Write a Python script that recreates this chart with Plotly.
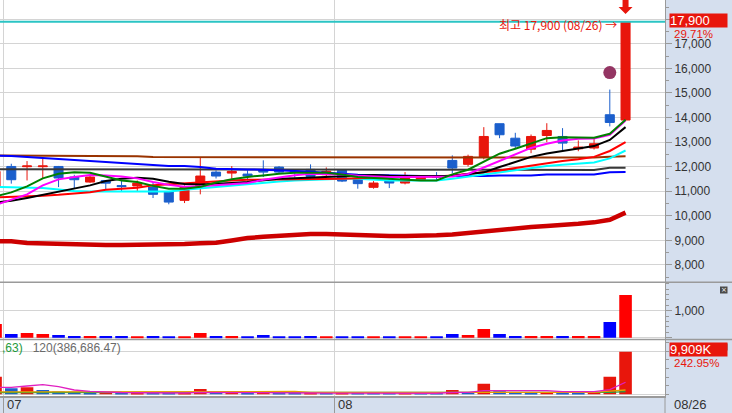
import pandas as pd
import plotly.graph_objects as go

# trading days on screen: 2022-06-30 .. 2022-08-26 (08-15 is a holiday)
dates = [d.strftime("%Y-%m-%d") for d in pd.bdate_range("2022-06-30", "2022-08-26")]
dates.remove("2022-08-15")
x = list(range(len(dates)))

### price candles ###
open_ = [11160, 12010, 12000, 12000, 12010, 11580, 11375, 11440, 11230, 11215,
         11170, 10970, 10630, 11130, 11780, 11740, 11700, 11880, 11985, 11820,
         11890, 11675, 11850, 11510, 11160, 11415, 11335, 11445, 11620, 12255,
         12095, 12390, 13750, 13160, 12715, 13270, 13230, 12730, 12760, 14115, 13900]
high = [11850, 12120, 12230, 12330, 12030, 11670, 11690, 11440, 11440, 11440,
        11375, 11010, 11240, 12390, 11850, 12025, 11850, 12260, 12025, 11860,
        12095, 11970, 11890, 11580, 11415, 11510, 11780, 11660, 11780, 12460,
        12490, 13610, 13750, 13380, 13310, 13770, 13570, 13070, 13180, 15140, 17900]
low = [11120, 11310, 11440, 11540, 11170, 11130, 11340, 11060, 11010, 11010,
       10725, 10470, 10520, 10875, 11520, 11510, 11440, 11580, 11715, 11560,
       11510, 11510, 11375, 11105, 11105, 11130, 11280, 11420, 11445, 11740,
       12010, 12300, 13160, 12755, 12550, 13000, 12660, 12630, 12700, 13640, 13900]
close = [11810, 11470, 12030, 12030, 11540, 11470, 11580, 11330, 11190, 11335,
         10875, 10560, 11170, 11620, 11620, 11810, 11620, 11780, 11780, 11770,
         11605, 11810, 11415, 11310, 11335, 11335, 11595, 11635, 11580, 11945,
         12420, 13230, 13300, 12840, 13230, 13475, 12960, 12800, 12935, 13800, 17900]

### moving averages ###
ma5 = [10790, 10955, 11200, 11525, 11710, 11770, 11750, 11605, 11443, 11380,
       11220, 11105, 11100, 11180, 11360, 11485, 11585, 11645, 11715, 11750,
       11755, 11750, 11685, 11585, 11545, 11510, 11470, 11443, 11443, 11687,
       11878, 12187, 12528, 12732, 12960, 13163, 13203, 13203, 13180, 13340, 13910]
ma10 = [10440, 10650, 10875, 11240, 11485, 11585, 11665, 11645, 11605, 11525,
        11375, 11260, 11180, 11200, 11240, 11270, 11340, 11465, 11565, 11655,
        11715, 11705, 11685, 11635, 11595, 11585, 11580, 11580, 11585, 11605,
        11705, 11970, 12235, 12520, 12765, 12935, 13070, 13140, 13150, 13300, 13880]
ma20 = [10545, 10610, 10730, 10855, 10970, 11100, 11240, 11420, 11505, 11555,
        11505, 11390, 11300, 11280, 11300, 11340, 11380, 11443, 11505, 11525,
        11555, 11580, 11625, 11645, 11665, 11635, 11620, 11620, 11620, 11625,
        11685, 11770, 11985, 12180, 12400, 12540, 12645, 12725, 12840, 13090, 13610]
ma60 = [10752, 10765, 10790, 10820, 10855, 10895, 10960, 11060, 11100, 11140,
        11240, 11280, 11340, 11380, 11420, 11443, 11465, 11470, 11470, 11470,
        11485, 11485, 11505, 11525, 11565, 11580, 11595, 11605, 11605, 11646,
        11705, 11770, 11850, 11950, 12053, 12135, 12230, 12300, 12400, 12640, 13000]
ma_cyan = [11180, 11170, 11160, 11130, 11077, 11015, 10995, 10995, 10995, 10995,
           10995, 10995, 11057, 11118, 11180, 11240, 11280, 11340, 11400, 11443,
           11470, 11490, 11505, 11510, 11470, 11443, 11443, 11443, 11443, 11505,
           11595, 11665, 11770, 11870, 11950, 12030, 12075, 12120, 12175, 12340, 12660]
ma_blue = [12450, 12440, 12390, 12350, 12310, 12270, 12230, 12190, 12150, 12110,
           12065, 12030, 12025, 11990, 11920, 11920, 11890, 11880, 11870, 11830,
           11790, 11750, 11710, 11675, 11665, 11645, 11635, 11625, 11625, 11620,
           11620, 11625, 11645, 11645, 11645, 11685, 11685, 11685, 11685, 11770, 11780]
ma_brown = [12460, 12460, 12460, 12430, 12430, 12430, 12430, 12430, 12430, 12430,
            12390, 12390, 12390, 12390, 12390, 12390, 12370, 12370, 12370, 12370,
            12370, 12370, 12370, 12370, 12370, 12370, 12370, 12370, 12370, 12370,
            12370, 12370, 12370, 12370, 12370, 12370, 12370, 12370, 12370, 12410, 12430]
ma_gray = [11900, 11900, 11900, 11900, 11900, 11900, 11900, 11900, 11900, 11900,
           11870, 11870, 11870, 11870, 11870, 11870, 11870, 11870, 11870, 11870,
           11870, 11870, 11870, 11870, 11870, 11870, 11870, 11870, 11870, 11870,
           11870, 11870, 11870, 11870, 11870, 11870, 11870, 11870, 11870, 11960, 11960]
ma_long = [8963, 8963, 8894, 8875, 8854, 8820, 8813, 8813, 8813, 8813,
           8813, 8813, 8854, 8880, 8905, 9000, 9098, 9145, 9187, 9250,
           9260, 9260, 9236, 9207, 9179, 9179, 9179, 9179, 9207, 9236,
           9301, 9382, 9430, 9490, 9550, 9590, 9654, 9675, 9735, 9840, 10130]

signal_x = [39]
signal_y = [15830]

### trading value (억) ###
amount = [507, 137, 174, 137, 100, 63, 63, 63, 63, 30,
          63, 30, 30, 174, 63, 63, 30, 100, 30, 30,
          63, 30, 30, 30, 30, 30, 30, 30, 30, 137,
          100, 322, 137, 63, 63, 63, 63, 63, 63, 580, 1580]

### volume (K) ###
volume = [4100, 1400, 1630, 1010, 640, 620, 230, 465, 280, 300,
          280, 250, 290, 1240, 465, 480, 240, 465, 240, 230,
          280, 250, 270, 240, 230, 220, 260, 250, 230, 1000,
          465, 2480, 700, 465, 230, 465, 230, 220, 465, 4079, 9909]
vol_ma5 = [1630, 1630, 1930, 2230, 1770, 1000, 700, 520, 420, 360,
           320, 300, 300, 460, 460, 460, 460, 460, 400, 340,
           300, 280, 270, 260, 250, 240, 240, 240, 250, 420,
           460, 840, 840, 840, 840, 840, 600, 600, 600, 1100, 2800]
vol_ma20 = [550, 550, 550, 550, 650, 650, 650, 650, 650, 650,
            650, 650, 650, 650, 650, 650, 650, 650, 650, 650,
            470, 470, 470, 470, 470, 470, 470, 470, 470, 470,
            470, 470, 470, 470, 470, 470, 470, 470, 470, 750, 1000]
vol_ma60 = [420, 420, 420, 420, 420, 420, 420, 420, 420, 420,
            420, 420, 420, 420, 420, 420, 420, 420, 420, 420,
            420, 420, 420, 420, 420, 420, 420, 420, 420, 420,
            420, 420, 420, 420, 420, 420, 420, 420, 420, 450, 600]

price_ticks = [8000, 9000, 10000, 11000, 12000, 13000, 14000, 15000, 16000, 17000, 18000]

RED = "#E8160C"
BLUE = "#1B5FCC"
GRID = "#D4D4D4"
EDGE = "#9A9A9A"
PANEL = "#D5DFEE"
NUMFONT = "Liberation Sans"

W, H = 732, 413
MR, MB = 67, 17
PW, PH = W - MR, H - MB
b1, b2 = 282.3, 339.4  # panel borders in px from top


def py(v):
    return 1 - v / PH


fig = go.Figure()

ma_lines = [
    (ma_long, "#CC0000", 4.5),
    (ma_brown, "#993300", 2),
    (ma_gray, "#383838", 2),
    (ma_blue, "#0000FF", 2),
    (ma_cyan, "#00FFFF", 2),
    (ma60, "#FF0000", 2),
    (ma20, "#000000", 2),
    (ma10, "#FF00FF", 2),
    (ma5, "#008000", 2),
]
for vals, col, w in ma_lines:
    fig.add_trace(go.Scatter(x=x, y=vals, mode="lines", line=dict(color=col, width=w),
                             yaxis="y", showlegend=False, hoverinfo="skip"))

fig.add_trace(go.Candlestick(
    x=x, open=open_, high=high, low=low, close=close,
    increasing=dict(line=dict(color=RED, width=1), fillcolor=RED),
    decreasing=dict(line=dict(color=BLUE, width=1), fillcolor=BLUE),
    whiskerwidth=0, yaxis="y", showlegend=False
))

fig.add_trace(go.Scatter(x=signal_x, y=signal_y, mode="markers",
                         marker=dict(color="#943563", size=13), yaxis="y", showlegend=False))

amt_colors = ["#FF0000" if c >= o else "#0000FF" for o, c in zip(open_, close)]
fig.add_trace(go.Bar(x=x, y=amount, width=0.8, marker=dict(color=amt_colors, line_width=0),
                     yaxis="y2", showlegend=False))

vol_colors = [RED] + [RED if volume[i] > volume[i - 1] else BLUE for i in range(1, len(volume))]
fig.add_trace(go.Bar(x=x, y=volume, width=0.8, marker=dict(color=vol_colors, line_width=0),
                     yaxis="y3", showlegend=False))
for vals, col in [(vol_ma60, "#22A046"), (vol_ma20, "#E6A000"), (vol_ma5, "#E020C0")]:
    fig.add_trace(go.Scatter(x=x, y=vals, mode="lines", line=dict(color=col, width=1.3),
                             yaxis="y3", showlegend=False, hoverinfo="skip"))

# month boundaries
month_pos = [i - 0.5 for i in range(1, len(dates)) if dates[i][5:7] != dates[i - 1][5:7]]
month_txt = [dates[i][5:7] for i in range(1, len(dates)) if dates[i][5:7] != dates[i - 1][5:7]]

tickfont = dict(family=NUMFONT, size=12, color="#333333")
yaxis_common = dict(side="right", anchor="x", showline=True, linecolor=EDGE, linewidth=1,
                    ticks="outside", tickcolor=EDGE, zeroline=False, gridcolor=GRID,
                    tickfont=tickfont, fixedrange=True)

fig.update_layout(
    width=W, height=H,
    margin=dict(l=0, r=MR, t=0, b=MB, pad=0),
    paper_bgcolor=PANEL, plot_bgcolor="white",
    boxgap=0.18, bargap=0.2, barmode="overlay",
    hovermode=False,
    xaxis=dict(range=[0.283, 42.505], anchor="y3", tickmode="array", tickvals=month_pos,
               ticktext=month_txt, showticklabels=False, ticks="outside", ticklen=MB,
               tickcolor=EDGE, showgrid=True, gridcolor=GRID, zeroline=False,
               showline=True, linecolor=EDGE, linewidth=1.5, fixedrange=True,
               rangeslider=dict(visible=False)),
    # the 18,000 label sits under the last-price box, so it is left blank
    yaxis=dict(domain=[py(b1), 1], range=[7295, 18785], tickmode="array", tickvals=price_ticks,
               ticktext=[f"{v:,}" for v in price_ticks[:-1]] + [""], ticklen=6,
               minor=dict(tickmode="linear", tick0=0, dtick=500, ticklen=3, tickcolor=EDGE, showgrid=False),
               **yaxis_common),
    yaxis2=dict(domain=[py(b2), py(b1)], range=[-63, 2052], tickmode="array",
                tickvals=[0, 1000], ticktext=["", "1,000"], ticklen=6,
                minor=dict(tickmode="linear", tick0=0, dtick=200, ticklen=3, tickcolor=EDGE, showgrid=False),
                **yaxis_common),
    yaxis3=dict(domain=[0, py(b2)], range=[-395, 12770], tickmode="array",
                tickvals=[0, 10000], showticklabels=False, ticklen=3,
                minor=dict(tickmode="linear", tick0=0, dtick=2000, ticklen=3, tickcolor=EDGE, showgrid=False),
                **yaxis_common),
)

# high line
fig.add_shape(type="line", xref="paper", x0=0, x1=1, yref="y", y0=max(high), y1=max(high),
              line=dict(color="#2BC4C4", width=2), layer="above")

# panel separators over the full width
for b in (b1, b2):
    fig.add_shape(type="line", xref="paper", x0=0, x1=W / PW, yref="paper", y0=py(b), y1=py(b),
                  line=dict(color=EDGE, width=1.5), layer="above")
fig.add_shape(type="line", xref="paper", x0=1, x1=1, yref="paper", y0=-MB / PH, y1=0,
              line=dict(color=EDGE, width=1))

# red arrow over the last candle
fig.add_shape(type="path", xref="x", yref="paper", xsizemode="pixel", ysizemode="pixel",
              xanchor=x[-1], yanchor=1,
              path="M-3,0 L3,0 L3,-7 L7,-7 L0,-14 L-7,-7 L-3,-7 Z",
              fillcolor=RED, line=dict(color=RED, width=0))

# small close icons
for top in (286.5, 343.5):
    fig.add_shape(type="rect", xref="paper", yref="paper", x0=720 / PW, x1=727.5 / PW,
                  y0=py(top + 7), y1=py(top), fillcolor="#4A4A4A", line_width=0)
    fig.add_annotation(xref="paper", yref="paper", x=723.8 / PW, y=py(top + 3.5), text="×",
                       xanchor="center", yanchor="middle", showarrow=False,
                       font=dict(family="DejaVu Sans", size=7, color="white"))

pct = (close[-1] / close[-2] - 1) * 100
last_day = dates[-1][5:].replace("-", "/")

fig.add_annotation(x=x[-1], y=max(high), xref="x", yref="y", xanchor="right", yanchor="middle",
                   xshift=-7, yshift=-3,
                   text=f"최고 {max(high):,} ({last_day}) →", showarrow=False,
                   font=dict(family="Noto Sans CJK KR", size=12, color=RED))

fig.add_annotation(xref="paper", x=669.5 / PW, yref="y", y=close[-1], xanchor="left", yanchor="middle",
                   yshift=1, text=f"{close[-1]:,}", showarrow=False, bgcolor=RED, width=57, height=13,
                   align="left", borderpad=0, font=dict(family=NUMFONT, size=13, color="white"))
fig.add_annotation(xref="paper", x=672 / PW, yref="y", y=close[-1], xanchor="left", yanchor="middle",
                   yshift=-12.5, text=f"{pct:.2f}%", showarrow=False,
                   font=dict(family=NUMFONT, size=11.5, color=RED))

fig.add_annotation(xref="paper", x=669.5 / PW, yref="y3", y=volume[-1], xanchor="left", yanchor="middle",
                   yshift=2, text=f"{volume[-1]:,}K", showarrow=False, bgcolor=RED, width=57, height=13,
                   align="left", borderpad=0, font=dict(family=NUMFONT, size=13, color="white"))
fig.add_annotation(xref="paper", x=672 / PW, yref="y3", y=volume[-1], xanchor="left", yanchor="middle",
                   yshift=-11.5, text="242.95%", showarrow=False,
                   font=dict(family=NUMFONT, size=11.5, color=RED))

fig.add_annotation(xref="paper", x=0, yref="paper", y=py(348), xanchor="left", yanchor="middle",
                   text='<span style="color:#1E9A3C">,63)</span>   120(386,686.47)', showarrow=False,
                   font=dict(family=NUMFONT, size=12, color="#6A6A6A"))

for pos, txt in zip(month_pos, month_txt):
    fig.add_annotation(x=pos, xref="x", yref="paper", y=py(404.5), xanchor="left", yanchor="middle",
                       xshift=2, text=txt, showarrow=False,
                       font=dict(family=NUMFONT, size=13, color="#333333"))
fig.add_annotation(xref="paper", x=672 / PW, yref="paper", y=py(404.5), xanchor="left", yanchor="middle",
                   text=last_day, showarrow=False, font=dict(family=NUMFONT, size=13, color="#333333"))

# page margin off so the figure fills the window exactly
fig.write_html("out.html", config={"displayModeBar": False},
               post_script="document.body.style.margin='0';")
